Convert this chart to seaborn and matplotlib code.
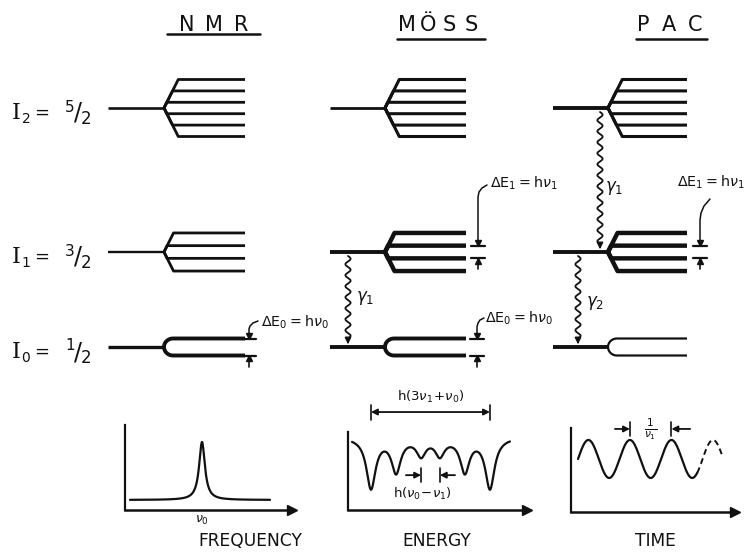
import numpy as np
import matplotlib
matplotlib.use("Agg")
import matplotlib.pyplot as plt
import seaborn as sns

# ---- values ----
level_names = ["2", "1", "0"]          # I_2, I_1, I_0
level_spin2 = [5, 3, 1]                # 2*I -> 5/2, 3/2, 1/2
methods = ["NMR", "MÖSS", "PAC"]
axis_names = ["FREQUENCY", "ENERGY", "TIME"]

# Mossbauer six-line pattern (velocity, mm/s) and relative intensities
moss_velocity = [-5.33, -3.08, -0.84, 0.84, 3.08, 5.33]
moss_intensity = [3, 2, 1, 1, 2, 3]
moss_hwhm = 0.5
moss_depth = 0.046

# NMR single resonance
nmr_nu0 = 0.0
nmr_hwhm = 3.5

# PAC oscillation, time in units of 1/nu1
pac_nu1 = 1.0
pac_solid_t = [0.0, 2.87]
pac_dashed_t = [2.87, 3.48]

# ---- layout (pixels) ----
W, H = 745, 552
ink = "#111111"
row_y = [108, 252, 347]
row_step = [11.4, 12.7, 17.0]
col_start = [108, 330, 553]
col_branch = [164, 385, 608]
col_end = [245, 466, 687]
col_lw = [
    [(1.9, 2.0), (1.7, 2.0), (2.4, 2.8)],
    [(2.0, 2.2), (2.8, 3.2), (2.8, 2.8)],
    [(2.8, 2.2), (2.8, 3.2), (2.8, 1.6)],
]
title_span = [(187, 241), (407, 471), (643, 695)]
title_line = [(167, 260, 34), (397, 485, 39), (636, 707, 39)]

sns.set_style("white")
plt.rcParams["font.family"] = ["DejaVu Sans"]
plt.rcParams["mathtext.fontset"] = "dejavusans"

fig = plt.figure(figsize=(W / 100, H / 100), dpi=100)
ax = fig.add_axes([0, 0, 1, 1])
ax.set_xlim(0, W)
ax.set_ylim(H, 0)
ax.axis("off")

# titles (hand-lettered, widely spaced)
for name, (xa, xb), (ua, ub, uy) in zip(methods, title_span, title_line):
    xs = np.linspace(xa, xb, len(name))
    for ch, xc in zip(name, xs):
        ax.text(xc, 25, ch, fontsize=15, ha="center", va="center", color=ink)
    ax.plot([ua, ub], [uy, uy], color=ink, lw=1.8)

# spin labels
for r in range(3):
    y = row_y[r] + 5
    ax.text(16, y, "I", family="DejaVu Serif", fontsize=16, ha="center", va="center", color=ink)
    ax.text(26, y + 6, level_names[r], fontsize=10, ha="center", va="center", color=ink)
    ax.text(42, y, "=", fontsize=13, ha="center", va="center", color=ink)
    ax.text(70, y - 6, str(level_spin2[r]), fontsize=11, ha="center", va="center", color=ink)
    ax.text(78, y, "/", fontsize=17, ha="center", va="center", color=ink)
    ax.text(86, y + 6, "2", fontsize=12, ha="center", va="center", color=ink)

# level schemes
for c in range(3):
    for r in range(3):
        y0 = row_y[r]
        lw_main, lw_sub = col_lw[c][r]
        xs, xb, xe = col_start[c], col_branch[c], col_end[c]
        ax.plot([xs, xb], [y0, y0], color=ink, lw=lw_main, solid_capstyle="butt")
        n = level_spin2[r]
        ms = np.arange(n, -n - 1, -2) / 2
        for m in ms:
            d = -m * row_step[r]
            if r < 2:
                px = [xb, xb + 0.5 * abs(d), xe]
                py = [y0, y0 + d, y0 + d]
            else:
                t = np.linspace(0, np.pi / 2, 15)
                px = list(xb + 9 * (1 - np.cos(t))) + [xe]
                py = list(y0 + d * np.sin(t)) + [y0 + d]
            ax.plot(px, py, color=ink, lw=lw_sub, solid_capstyle="butt")


def gap_marker(x, r, label, lx, ly, leader):
    y_top = row_y[r] - 0.5 * row_step[r]
    y_bot = row_y[r] + 0.5 * row_step[r]
    ax.plot([x - 7, x + 7], [y_top, y_top], color=ink, lw=1.6)
    ax.plot([x - 7, x + 7], [y_bot, y_bot], color=ink, lw=1.6)
    ax.plot([x, x], [y_bot, y_bot + 11], color=ink, lw=1.2)
    ax.plot(x, y_top - 2.5, marker="v", ms=4, color=ink)
    ax.plot(x, y_bot + 2.5, marker="^", ms=4, color=ink)
    lxs, lys = zip(*leader)
    ax.plot(lxs, lys, color=ink, lw=1.1)
    ax.text(lx, ly, label, fontsize=10.3, ha="left", va="center", color=ink)


gap_marker(249, 2, r"$\Delta\mathrm{E}_0 = \mathrm{h}\nu_0$", 261, 322,
           [(249, 335), (249, 329), (250, 326), (253, 323), (258, 321)])
gap_marker(478, 1, r"$\Delta\mathrm{E}_1 = \mathrm{h}\nu_1$", 490, 183,
           [(478, 242), (478, 197), (479, 192), (482, 188), (487, 185)])
gap_marker(477, 2, r"$\Delta\mathrm{E}_0 = \mathrm{h}\nu_0$", 485, 318,
           [(477, 335), (477, 327), (478, 323), (480, 320), (484, 318)])
gap_marker(700, 1, r"$\Delta\mathrm{E}_1 = \mathrm{h}\nu_1$", 677, 182,
           [(700, 242), (700, 220), (701, 213), (704, 206), (710, 199)])


def gamma_arrow(x, y0, y1, label, lx, ly):
    yy = np.linspace(y0, y1 - 8, 300)
    xx = x + 2.6 * np.sin(2 * np.pi * (yy - y0) / 11)
    ax.plot(xx, yy, color=ink, lw=1.3)
    ax.annotate("", xy=(x, y1), xytext=(x, y1 - 9),
                arrowprops=dict(arrowstyle="-|>", color=ink, lw=1.2, mutation_scale=9))
    ax.text(lx, ly, label, fontsize=12, ha="left", va="center", color=ink)


gamma_arrow(348, 256, 347, r"$\gamma_1$", 356, 298)
gamma_arrow(600, 112, 252, r"$\gamma_1$", 605, 188)
gamma_arrow(578, 256, 347, r"$\gamma_2$", 586, 303)


# ---- spectra ----
def inset(x0, x1, ytop, ybot):
    a = fig.add_axes([x0 / W, 1 - ybot / H, (x1 - x0) / W, (ybot - ytop) / H])
    a.patch.set_alpha(0)
    sns.despine(ax=a)
    a.spines["left"].set_linewidth(1.6)
    a.spines["bottom"].set_linewidth(1.8)
    a.spines["left"].set_color(ink)
    a.spines["bottom"].set_color(ink)
    a.plot(1, 0, ">", transform=a.transAxes, clip_on=False, ms=7, color=ink)
    a.set_xticks([])
    a.set_yticks([])
    return a


# NMR
a1 = inset(125, 292, 425, 510)
f = np.linspace(-72, 68, 700)
sig = nmr_hwhm ** 2 / ((f - nmr_nu0) ** 2 + nmr_hwhm ** 2)
sns.lineplot(x=f, y=sig, ax=a1, color=ink, lw=1.6, sort=False, estimator=None)
a1.set_xlim(-77, 90)
a1.set_ylim(-0.173, 1.293)
a1.set_xticks([nmr_nu0], [r"$\nu_0$"])
a1.tick_params(axis="x", direction="in", length=4, width=1.2, labelsize=9, pad=3, colors=ink)

# Mossbauer
a2 = inset(348, 527, 432, 510)
v = np.linspace(-7.03, 7.12, 900)
T = np.ones_like(v)
for v0, inten in zip(moss_velocity, moss_intensity):
    T -= inten * moss_depth * moss_hwhm ** 2 / ((v - v0) ** 2 + moss_hwhm ** 2)
sns.lineplot(x=v, y=T, ax=a2, color=ink, lw=1.6, sort=False, estimator=None)
a2.set_xlim(-7.39, 8.65)
a2.set_ylim(0.801, 1.0136)
vo = moss_velocity[-1]
a2.annotate("", xy=(-vo, 1.068), xytext=(vo, 1.068), annotation_clip=False,
            arrowprops=dict(arrowstyle="<|-|>", color=ink, lw=1.3, mutation_scale=9, shrinkA=0, shrinkB=0))
for xv in (-vo, vo):
    a2.plot([xv, xv], [1.046, 1.087], color=ink, lw=1.2, clip_on=False)
a2.text(0, 1.109, r"$\mathrm{h}(3\nu_1\!+\!\nu_0)$", fontsize=9.5, ha="center", va="center", color=ink)
vi = moss_velocity[3]
for xv, tail in ((-vi, -2.2), (vi, 2.2)):
    a2.plot([xv, xv], [0.878, 0.915], color=ink, lw=1.2)
    a2.annotate("", xy=(xv, 0.896), xytext=(tail, 0.896),
                arrowprops=dict(arrowstyle="-|>", color=ink, lw=1.3, mutation_scale=9, shrinkA=0, shrinkB=0))
a2.text(-0.7, 0.845, r"$\mathrm{h}(\nu_0\!-\!\nu_1)$", fontsize=9.5, ha="center", va="center", color=ink)

# PAC
a3 = inset(571, 735, 428, 512)
ts = np.linspace(pac_solid_t[0], pac_solid_t[1], 500)
td = np.linspace(pac_dashed_t[0], pac_dashed_t[1], 100)
sns.lineplot(x=ts, y=np.sin(2 * np.pi * pac_nu1 * ts), ax=a3, color=ink, lw=1.6, sort=False, estimator=None)
sns.lineplot(x=td, y=np.sin(2 * np.pi * pac_nu1 * td), ax=a3, color=ink, lw=1.4, sort=False,
             estimator=None, dashes=False, linestyle=(0, (3, 2)))
a3.set_xlim(-0.169, 3.78)
a3.set_ylim(-2.79, 1.63)
p1, p2 = 1.25 / pac_nu1, 2.25 / pac_nu1
for xp, tail in ((p1, 0.89), (p2, 2.7)):
    a3.plot([xp, xp], [1.21, 1.95], color=ink, lw=1.2, clip_on=False)
    a3.annotate("", xy=(xp, 1.58), xytext=(tail, 1.58), annotation_clip=False,
                arrowprops=dict(arrowstyle="-|>", color=ink, lw=1.3, mutation_scale=9, shrinkA=0, shrinkB=0))
a3.text((p1 + p2) / 2, 1.58, r"$\frac{1}{\nu_1}$", fontsize=11, ha="center", va="center", color=ink)

# axis names
for name, cx in zip(axis_names, [250, 437, 655]):
    ax.text(cx, 541, name, fontsize=12.3, ha="center", va="center", color=ink)

fig.savefig("out.png", dpi=100, facecolor="white")
